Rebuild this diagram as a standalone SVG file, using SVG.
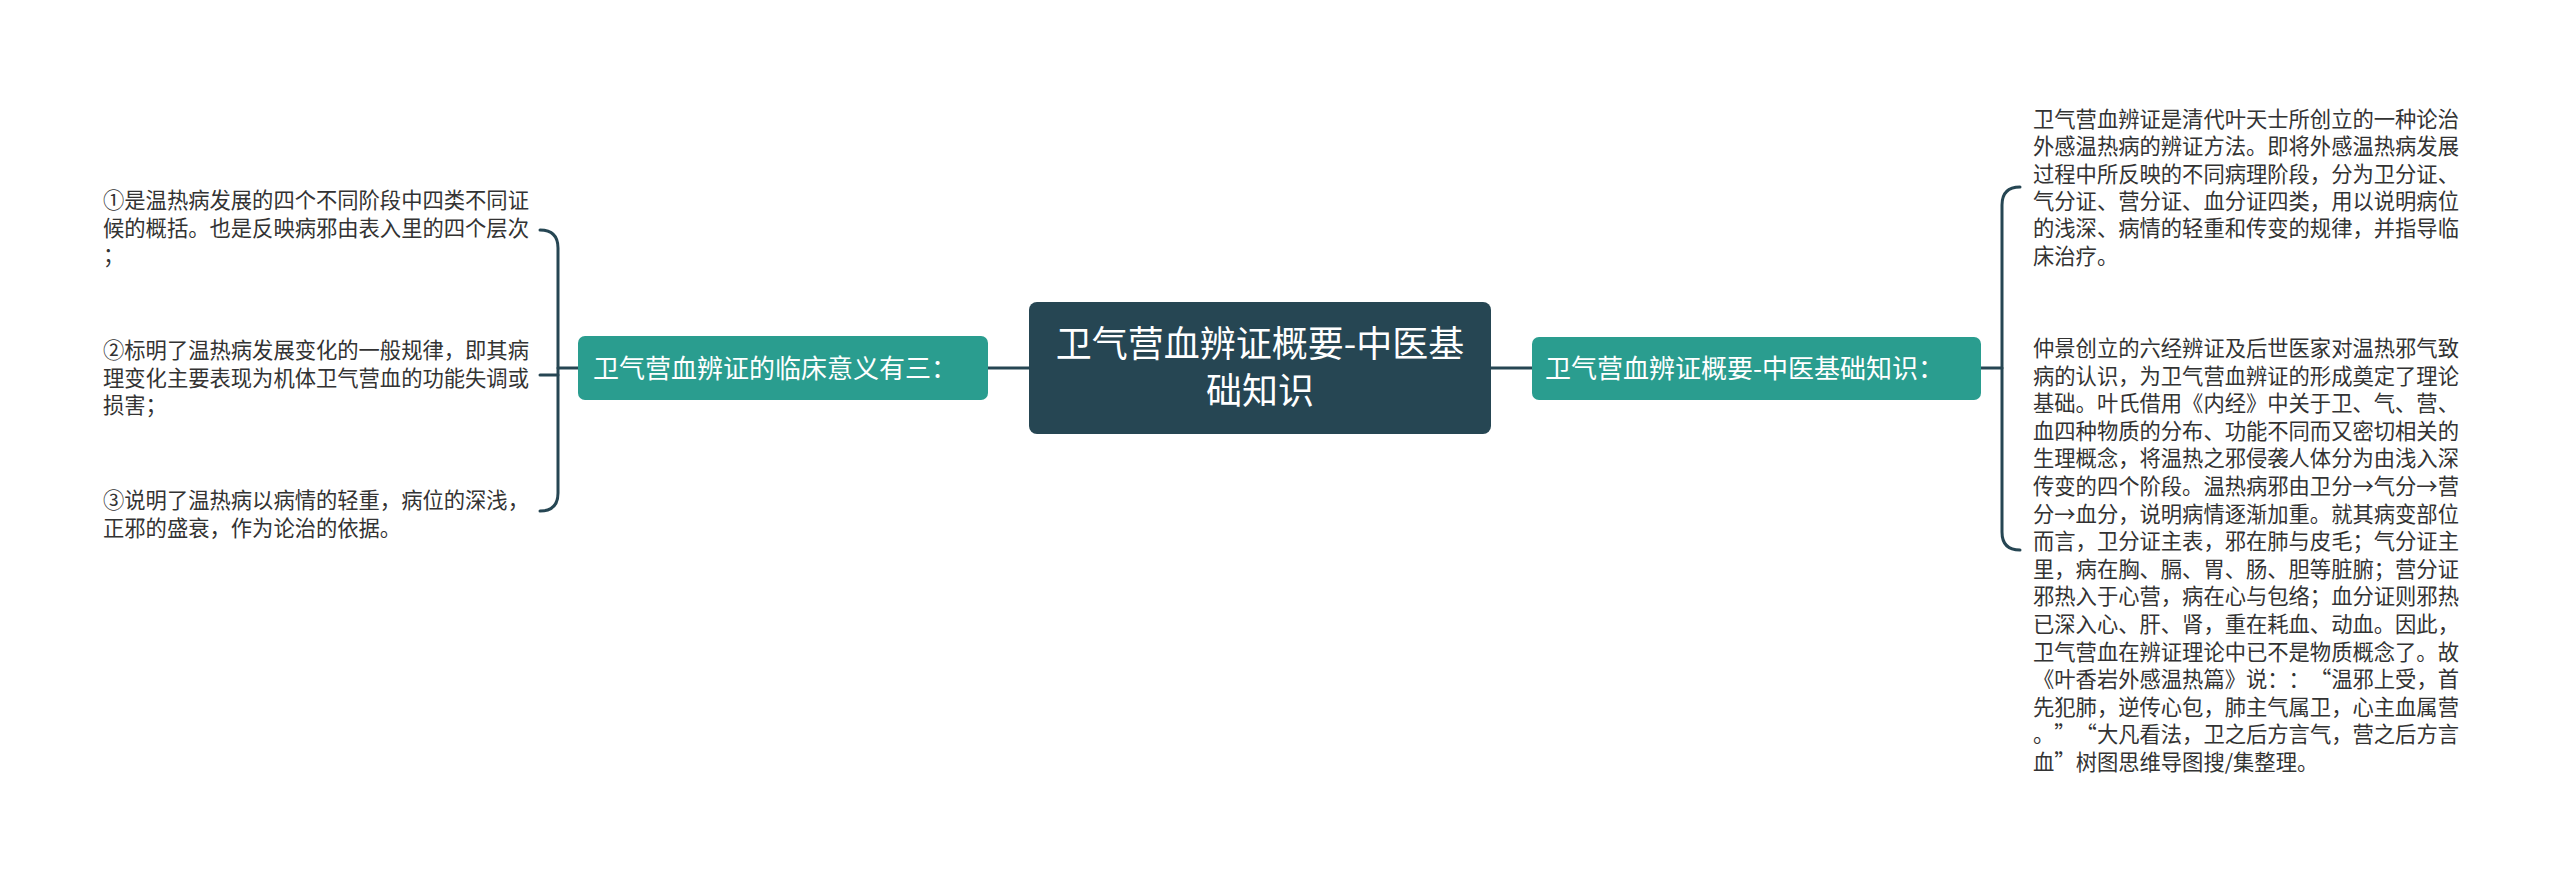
<svg xmlns="http://www.w3.org/2000/svg" width="2560" height="874" viewBox="0 0 2560 874">
<style>
.ct{font-family:"Noto Sans CJK SC","Noto Sans",sans-serif;fill:#ffffff;text-spacing-trim:space-all;}
.tx{font-family:"Noto Sans CJK SC","Noto Sans",sans-serif;fill:#333333;font-size:21.3px;text-spacing-trim:space-all;}
.fw{font-feature-settings:"fwid" 1;}
.ln{fill:none;stroke:#264653;stroke-width:3;stroke-linecap:round;}
</style>
<rect width="2560" height="874" fill="#ffffff"/>
<g id="connectors">
<path class="ln" d="M988 368 L1029 368"/>
<path class="ln" d="M1491 368 L1532 368"/>
<path class="ln" d="M578 368 L558 368"/>
<path class="ln" d="M540 230 Q558 230 558 248 L558 493 Q558 511 540 511"/>
<path class="ln" d="M540 375 L558 375"/>
<path class="ln" d="M1981 368 L2002 368"/>
<path class="ln" d="M2020 187 Q2002 187 2002 205 L2002 532 Q2002 550 2020 550"/>
</g>
<g id="center">
<rect x="1029" y="302" width="462" height="132" rx="8" fill="#264653"/>
<text class="ct" font-size="36" text-anchor="middle"><tspan x="1260" y="357">卫气营血辨证概要-中医基</tspan><tspan x="1260" y="404">础知识</tspan></text>
</g>
<g id="left-branch">
<rect x="578" y="336" width="410" height="64" rx="7" fill="#2a9d8f"/>
<text class="ct" font-size="26" x="593" y="378">卫气营血辨证的临床意义有三：</text>
</g>
<g id="right-branch">
<rect x="1532" y="337" width="449" height="63" rx="7" fill="#2a9d8f"/>
<text class="ct" font-size="26" x="1545" y="378">卫气营血辨证概要-中医基础知识：</text>
</g>
<g id="left-child-1">
<text class="tx"><tspan x="103" y="208">①是温热病发展的四个不同阶段中四类不同证</tspan><tspan x="103" y="235.5">候的概括。也是反映病邪由表入里的四个层次</tspan><tspan x="103" y="263">；</tspan></text>
</g>
<g id="left-child-2">
<text class="tx"><tspan x="103" y="358">②标明了温热病发展变化的一般规律，即其病</tspan><tspan x="103" y="385.5">理变化主要表现为机体卫气营血的功能失调或</tspan><tspan x="103" y="413">损害；</tspan></text>
</g>
<g id="left-child-3">
<text class="tx"><tspan x="103" y="508">③说明了温热病以病情的轻重，病位的深浅，</tspan><tspan x="103" y="535.5">正邪的盛衰，作为论治的依据。</tspan></text>
</g>
<g id="right-child-1">
<text class="tx"><tspan x="2033" y="127">卫气营血辨证是清代叶天士所创立的一种论治</tspan><tspan x="2033" y="154.3">外感温热病的辨证方法。即将外感温热病发展</tspan><tspan x="2033" y="181.6">过程中所反映的不同病理阶段，分为卫分证、</tspan><tspan x="2033" y="208.9">气分证、营分证、血分证四类，用以说明病位</tspan><tspan x="2033" y="236.2">的浅深、病情的轻重和传变的规律，并指导临</tspan><tspan x="2033" y="263.5">床治疗。</tspan></text>
</g>
<g id="right-child-2">
<text class="tx"><tspan x="2033" y="356">仲景创立的六经辨证及后世医家对温热邪气致</tspan><tspan x="2033" y="383.6">病的认识，为卫气营血辨证的形成奠定了理论</tspan><tspan x="2033" y="411.2">基础。叶氏借用《内经》中关于卫、气、营、</tspan><tspan x="2033" y="438.8">血四种物质的分布、功能不同而又密切相关的</tspan><tspan x="2033" y="466.4">生理概念，将温热之邪侵袭人体分为由浅入深</tspan><tspan x="2033" y="494">传变的四个阶段。温热病邪由卫分→气分→营</tspan><tspan x="2033" y="521.6">分→血分，说明病情逐渐加重。就其病变部位</tspan><tspan x="2033" y="549.2">而言，卫分证主表，邪在肺与皮毛；气分证主</tspan><tspan x="2033" y="576.8">里，病在胸、膈、胃、肠、胆等脏腑；营分证</tspan><tspan x="2033" y="604.4">邪热入于心营，病在心与包络；血分证则邪热</tspan><tspan x="2033" y="632">已深入心、肝、肾，重在耗血、动血。因此，</tspan><tspan x="2033" y="659.6">卫气营血在辨证理论中已不是物质概念了。故</tspan><tspan x="2033" y="687.2">《叶香岩外感温热篇》说：：<tspan class="fw">“</tspan>温邪上受，首</tspan><tspan x="2033" y="714.8">先犯肺，逆传心包，肺主气属卫，心主血属营</tspan><tspan x="2033" y="742.4">。<tspan class="fw">”“</tspan>大凡看法，卫之后方言气，营之后方言</tspan><tspan x="2033" y="770">血<tspan class="fw">”</tspan>树图思维导图搜/集整理。</tspan></text>
</g>
</svg>
